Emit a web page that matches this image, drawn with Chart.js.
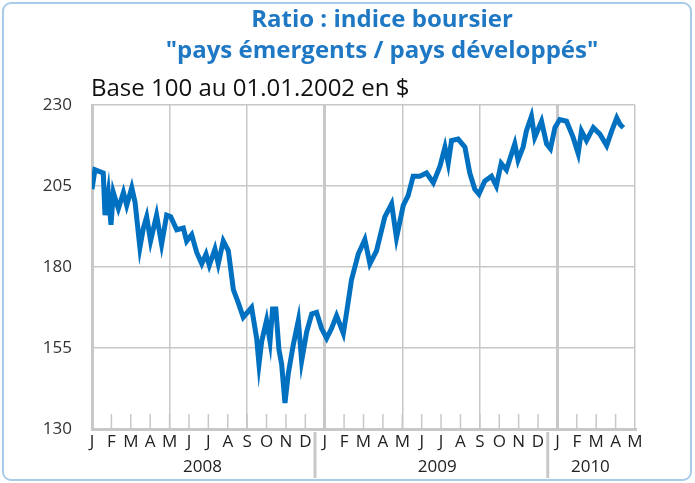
<!DOCTYPE html>
<html>
<head>
<meta charset="utf-8">
<script src="https://cdn.jsdelivr.net/npm/chart.js@4/dist/chart.umd.min.js"></script>
<style>
  html, body { margin: 0; padding: 0; background: #fff; }
  #wrap { width: 695px; height: 483px; }
</style>
</head>
<body>
<div id="wrap"><canvas id="ratio" width="695" height="483"></canvas></div>
<script>
// mois depuis le 01.01.2008 / valeur de l'indice
const months = [0, 0.15, 0.58, 0.67, 0.84, 0.98, 1.1, 1.36, 1.62, 1.79, 2.05, 2.22, 2.47, 2.65, 2.82, 3.02, 3.33, 3.59, 3.85, 4.06,
  4.37, 4.71, 4.88, 5.14, 5.4, 5.66, 5.88, 6.05, 6.34, 6.51, 6.77, 7.03, 7.29, 7.54, 7.8, 8.23, 8.49, 8.61, 8.75, 9.0,
  9.18, 9.31, 9.48, 9.64, 9.78, 9.95, 10.12, 10.38, 10.64, 10.81, 11.07, 11.33, 11.58, 11.84, 12.1, 12.35, 12.61, 12.96, 13.13, 13.38,
  13.73, 14.07, 14.33, 14.67, 15.1, 15.45, 15.7, 16.05, 16.3, 16.56, 16.9, 17.25, 17.6, 17.94, 18.2, 18.37, 18.54, 18.88, 19.23, 19.48,
  19.74, 19.95, 20.25, 20.6, 20.85, 21.1, 21.37, 21.8, 21.97, 22.23, 22.4, 22.66, 22.83, 23.18, 23.44, 23.64, 23.87, 24.12, 24.47, 24.81,
  25.07, 25.24, 25.5, 25.85, 26.19, 26.54, 26.8, 27.06, 27.23, 27.4];
const ratio = [204, 210, 209, 196, 203, 193, 203, 198, 203, 199, 204.5, 200, 186, 192, 195.5, 188, 196, 187, 196, 195.5,
  191.5, 192, 188, 190, 184.5, 181, 184, 180.5, 185.5, 181, 188, 185, 173, 169, 164.5, 167.5, 158, 150, 157, 163.5,
  157, 167, 167, 154.5, 150, 138, 147, 156, 163.5, 151, 160, 165.5, 166, 161, 158, 161, 165, 159.5, 166, 176,
  184, 188.5, 181, 185, 195.5, 199.5, 189, 199, 202, 208, 208, 209, 206, 211, 217, 212, 219, 219.5, 217, 209,
  204, 202.5, 206.5, 208, 205, 212, 210, 218, 213, 217, 222, 226.5, 220, 225, 218, 216.5, 223, 225.5, 225, 220,
  215, 222, 219, 223, 221, 217.5, 222, 226, 224, 223];
const monthLabels = ['J','F','M','A','M','J','J','A','S','O','N','D',
  'J','F','M','A','M','J','J','A','S','O','N','D','J','F','M','A','M'];
const years = ['2008', '2009', '2010'];
const yearCenters = [5.7, 17.8, 25.7];
const yearSeparators = [11.5, 23.5];
const yTicks = [130, 155, 180, 205, 230];

const BLUE = '#0070c0';
const GRID = '#c8c8c8';

const decor = {
  id: 'decor',
  beforeDraw(chart) {
    const c = chart.ctx;
    c.save();
    c.fillStyle = '#fff';
    c.fillRect(0, 0, chart.width, chart.height);
    c.strokeStyle = '#a9cbe8';
    c.lineWidth = 2;
    c.beginPath();
    c.roundRect(3, 3, chart.width - 7, chart.height - 6, 8);
    c.stroke();
    c.restore();
  },
  afterDraw(chart) {
    const c = chart.ctx;
    const x = chart.scales.x;
    const area = chart.chartArea;
    c.save();
    // titre
    c.fillStyle = '#1f78c4';
    c.font = 'bold 24px "Open Sans", sans-serif';
    c.textAlign = 'center';
    c.textBaseline = 'middle';
    c.fillText('Ratio : indice boursier', 382, 20);
    c.fillText('"pays émergents / pays développés"', 382, 51);
    c.fillStyle = '#111';
    c.font = '24px "Open Sans", sans-serif';
    c.textAlign = 'left';
    c.fillText('Base 100 au 01.01.2002 en $', 91, 89);
    // petites graduations mensuelles
    c.strokeStyle = GRID;
    c.lineWidth = 1.5;
    for (let m = 1; m < 28; m++) {
      const px = x.getPixelForValue(m);
      c.beginPath();
      c.moveTo(px, area.bottom);
      c.lineTo(px, area.bottom - 15);
      c.stroke();
    }
    // séparateurs et années
    c.lineWidth = 3;
    for (const s of yearSeparators) {
      const px = x.getPixelForValue(s);
      c.beginPath();
      c.moveTo(px, area.bottom + 3);
      c.lineTo(px, chart.height - 5);
      c.stroke();
    }
    c.fillStyle = '#222';
    c.font = '17px "Open Sans", sans-serif';
    c.textAlign = 'center';
    years.forEach((y, i) => c.fillText(y, x.getPixelForValue(yearCenters[i]), 467));
    c.restore();
  }
};

new Chart(document.getElementById('ratio'), {
  type: 'line',
  data: {
    datasets: [{
      data: months.map((m, i) => ({ x: m, y: ratio[i] })),
      borderColor: BLUE,
      borderWidth: 5,
      pointRadius: 0,
      tension: 0,
    }]
  },
  options: {
    responsive: false,
    animation: false,
    layout: { padding: { top: 105, right: 60, left: 0, bottom: 0 } },
    scales: {
      x: {
        type: 'linear',
        min: 0,
        max: 28,
        afterFit: s => { s.height = 54; },
        ticks: {
          stepSize: 1,
          autoSkip: false,
          maxRotation: 0,
          padding: 3,
          color: '#222',
          font: { size: 17, family: '"Open Sans", sans-serif' },
          callback: v => monthLabels[v],
        },
        grid: {
          drawTicks: false,
          color: ctx => (ctx.tick && ctx.tick.value % 4 === 0) ? GRID : 'transparent',
          lineWidth: ctx => (ctx.tick && ctx.tick.value % 12 === 0) ? 3 : 1.5,
        },
        border: { color: GRID, width: 3 },
      },
      y: {
        min: 130,
        max: 230,
        afterFit: s => { s.width = 92; },
        afterBuildTicks: s => { s.ticks = yTicks.map(v => ({ value: v })); },
        ticks: {
          padding: 20,
          color: '#333',
          font: { size: 17, family: '"Open Sans", sans-serif' },
        },
        grid: { drawTicks: false, color: GRID, lineWidth: 1.5 },
        border: { color: GRID, width: 3 },
      }
    },
    plugins: {
      legend: { display: false },
      tooltip: { enabled: false },
    }
  },
  plugins: [decor]
});
</script>
</body>
</html>
